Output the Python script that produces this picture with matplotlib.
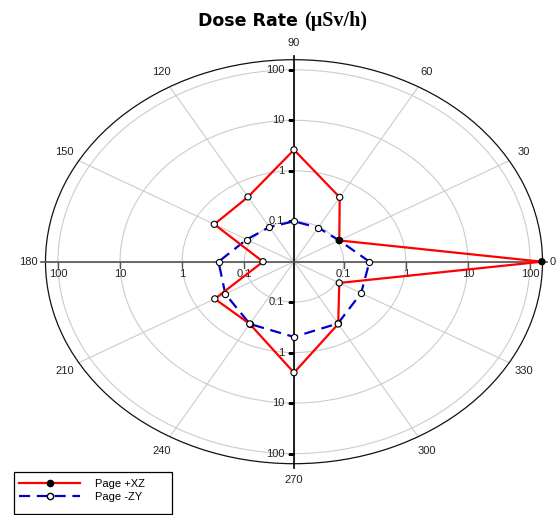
import numpy as np
import matplotlib.pyplot as plt
from matplotlib.lines import Line2D
from matplotlib.patches import Rectangle

# data (dose rate, uSv/h, every 30 degrees)
angles = [0, 30, 60, 90, 120, 150, 180, 210, 240, 270, 300, 330]
page_xz = [155, 0.11, 0.47, 2.6, 0.48, 0.48, 0.05, 0.47, 0.42, 2.5, 0.42, 0.11]
page_zy = [0.26, 0.11, 0.095, 0.10, 0.098, 0.12, 0.26, 0.30, 0.42, 0.49, 0.41, 0.28]
xz_filled = [True, True, False, False, False, False, False, False, False, False, False, False]
r_ticks = [0.1, 1, 10, 100]
r_labels = ["0.1", "1", "10", "100"]

RMIN = 10 ** -1.8
RMAX = 10 ** 2.2

plt.rcParams['font.family'] = ['Liberation Sans', 'DejaVu Sans']

fig = plt.figure(figsize=(5.58, 5.15), dpi=100)
ax = fig.add_axes([45.5 / 558, 1 - 463.7 / 515, 497 / 558, 404 / 515], projection='polar')
ax.set_rscale('log')
ax.set_rlim(RMIN, RMAX)
ax.set_aspect('auto')

# the 0 label is drawn by hand below so it stays inside the figure
ax.set_thetagrids(angles, labels=['' if a == 0 else str(a) for a in angles])
ax.set_rticks(r_ticks)
ax.set_yticklabels([])
ax.yaxis.set_minor_locator(plt.NullLocator())
ax.tick_params(axis='y', which='both', length=0)
ax.tick_params(axis='x', pad=1, labelsize=8, labelcolor='#222222', length=4, width=0.8, color='#333333')
ax.grid(color='#cccccc', lw=0.8)
ax.spines['polar'].set_color('#111111')
ax.spines['polar'].set_linewidth(0.9)
ax.annotate('0', xy=(0, RMAX), xytext=(7.5, 0), textcoords='offset points',
            ha='center', va='center', fontsize=8, color='#222222', annotation_clip=False)

# axis cross through the centre
ax.plot([np.pi / 2, 3 * np.pi / 2], [RMAX * 1.2, RMAX * 1.2], color='black', lw=1.2, clip_on=False, zorder=3)
ax.plot([0, np.pi], [RMAX * 1.16, RMAX * 1.16], color='#555555', lw=1.2, clip_on=False, zorder=3)

for th in [np.pi / 2, 3 * np.pi / 2]:
    ax.plot([th] * len(r_ticks), r_ticks, ls='none', marker=0, ms=4, mew=1.0, mec='black', zorder=3)
    for r, lab in zip(r_ticks, r_labels):
        ax.annotate(lab, xy=(th, r), xytext=(-7, 0), textcoords='offset points',
                    ha='right', va='center', fontsize=8, color='#222222')
for th in [0, np.pi]:
    ax.plot([th] * len(r_ticks), r_ticks, ls='none', marker=3, ms=4, mew=1.0, mec='#555555', zorder=3)
    for r, lab in zip(r_ticks, r_labels):
        ax.annotate(lab, xy=(th, r), xytext=(0, -5), textcoords='offset points',
                    ha='center', va='top', fontsize=8, color='#222222')

theta = np.deg2rad(angles + [angles[0]])
xz_closed = page_xz + [page_xz[0]]
zy_closed = page_zy + [page_zy[0]]

ax.plot(theta, zy_closed, color='#0000cc', lw=1.6, ls=(0, (5, 3)), zorder=4)
ax.plot(theta, xz_closed, color='red', lw=1.6, zorder=4)

ax.scatter(np.deg2rad(angles), page_zy, s=20, c='white', edgecolors='black', linewidths=0.8, zorder=5, clip_on=False)
xz_faces = ['black' if f else 'white' for f in xz_filled]
ax.scatter(np.deg2rad(angles), page_xz, s=20, c=xz_faces, edgecolors='black', linewidths=0.8, zorder=6, clip_on=False)

# title: sans bold + serif bold unit
fig.text(298 / 558, 1 - 26 / 515, "Dose Rate", ha='right', va='baseline', fontsize=12.5,
         fontweight='bold', family='DejaVu Sans')
fig.text(304 / 558, 1 - 26 / 515, "(μSv/h)", ha='left', va='baseline', fontsize=14.5,
         fontweight='bold', family='Liberation Serif')

# legend, with a hand-drawn frame as wide as the reference box
handles = [
    Line2D([], [], color='red', lw=1.6, marker='o', ms=4.5, mfc='black', mec='black'),
    Line2D([], [], color='#0000cc', lw=1.6, ls=(0, (5, 3)), marker='o', ms=4.5, mfc='white', mec='black'),
]
fig.legend(handles, ["Page +XZ", "Page -ZY"], loc='upper left',
           bbox_to_anchor=(16 / 558, 1 - 476 / 515), frameon=False,
           fontsize=8, handlelength=5.5, handletextpad=1.3, borderpad=0.3,
           labelspacing=0.25, borderaxespad=0, numpoints=1)
fig.patches.append(Rectangle((14 / 558, 1 - 514 / 515), 158 / 558, 42 / 515, transform=fig.transFigure,
                             fill=False, edgecolor='black', lw=0.9))

fig.savefig('out.png', dpi=100)
